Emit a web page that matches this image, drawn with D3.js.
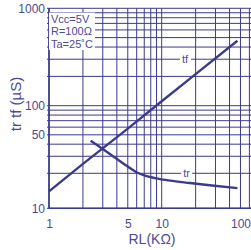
<!DOCTYPE html>
<html>
<head>
<meta charset="utf-8">
<script src="https://cdn.jsdelivr.net/npm/d3@7/dist/d3.min.js"></script>
<style>
  html, body { margin: 0; padding: 0; background: #fff; }
  svg { display: block; font-family: "Liberation Sans", Arial, sans-serif; }
</style>
</head>
<body>
<div id="chart"></div>
<script>
(function() {
    'use strict';

    // RL in kOhm, times in uS
    var tfRL = [1, 2, 5, 10, 20, 47];
    var tfValues = [14, 25, 58, 111, 211, 465];

    var trRL = [2.34, 3.0, 3.85, 4.92, 6.04, 7.11, 8.72, 11.85, 17.8, 27.9, 47];
    var trValues = [43.4, 35.7, 29.1, 23.8, 20.4, 19.1, 18.2, 17.3, 16.5, 15.7, 14.9];

    var xTickValues = [1, 5, 10, 50];
    var xTickLabels = ["1", "5", "10", "100"];
    var yTickValues = [10, 50, 100, 1000];
    var yTickLabels = ["10", "50", "100", "1000"];

    var notes = ["Vcc=5V", "R=100\u03A9", "Ta=25\u02DAC"];

    var ink = "#3b3b8c",
        textInk = "#4a4a96";

    var width = 251, height = 250;

    var svg = d3.select("#chart").append("svg")
        .attr("width", width)
        .attr("height", height);

    // setup x (log, grid runs on past the right edge)
    var xScale = d3.scaleLog().domain([1, 100]).range([49, 274.4]);

    // setup y (hand drawn grid, so split the log scale in pieces)
    var yScale = d3.scaleLog()
        .domain([10, 20, 100, 1000])
        .range([208.3, 173.3, 105.7, 8.3]);

    var xGrid = xScale.ticks();
    var yGrid = d3.scaleLog().domain([10, 1000]).ticks();

    // grid lines
    svg.append("g").selectAll("line")
        .data(xGrid)
      .enter().append("line")
        .attr("x1", function(d) { return xScale(d); })
        .attr("x2", function(d) { return xScale(d); })
        .attr("y1", yScale(1000))
        .attr("y2", yScale(10))
        .style("stroke", ink)
        .style("stroke-width", 1);

    svg.append("g").selectAll("line")
        .data(yGrid)
      .enter().append("line")
        .attr("x1", 47)
        .attr("x2", width)
        .attr("y1", function(d) { return yScale(d); })
        .attr("y2", function(d) { return yScale(d); })
        .style("stroke", ink)
        .style("stroke-width", 1);

    // axis frame
    svg.append("line")
        .attr("x1", xScale(1)).attr("x2", xScale(1))
        .attr("y1", yScale(1000)).attr("y2", yScale(10))
        .style("stroke", ink).style("stroke-width", 1.6);
    svg.append("line")
        .attr("x1", xScale(1)).attr("x2", width)
        .attr("y1", yScale(10)).attr("y2", yScale(10))
        .style("stroke", ink).style("stroke-width", 1.6);

    // tick labels
    var yAxis = d3.axisLeft(yScale)
        .tickValues(yTickValues)
        .tickSize(0)
        .tickPadding(4)
        .tickFormat(function(d, i) { return yTickLabels[i]; });

    var xAxis = d3.axisBottom(xScale)
        .tickValues(xTickValues)
        .tickSize(0)
        .tickPadding(11)
        .tickFormat(function(d, i) { return xTickLabels[i]; });

    var gy = svg.append("g")
        .attr("transform", "translate(" + xScale(1) + ",0)")
        .call(yAxis);
    var gx = svg.append("g")
        .attr("transform", "translate(0," + yScale(10) + ")")
        .call(xAxis);

    [gx, gy].forEach(function(g) {
        g.select(".domain").remove();
        g.selectAll("text")
            .style("font-size", "12px")
            .style("font-family", "Liberation Sans, Arial, sans-serif")
            .style("fill", textInk);
    });

    // curves
    var tfLine = d3.line()
        .x(function(d) { return xScale(d[0]); })
        .y(function(d) { return yScale(d[1]); });

    var trLine = d3.line()
        .curve(d3.curveMonotoneX)
        .x(function(d) { return xScale(d[0]); })
        .y(function(d) { return yScale(d[1]); });

    svg.append("path")
        .datum(d3.zip(tfRL, tfValues))
        .attr("d", tfLine)
        .style("fill", "none")
        .style("stroke", ink)
        .style("stroke-width", 2.4);

    svg.append("path")
        .datum(d3.zip(trRL, trValues))
        .attr("d", trLine)
        .style("fill", "none")
        .style("stroke", ink)
        .style("stroke-width", 2.4);

    // text (one or more lines) with a white patch behind it
    function boxedText(x, y, lines, size, anchor, lineStep) {
        var g = svg.append("g");
        var rect = g.append("rect").style("fill", "#fff");
        var t = g.append("text")
            .attr("x", x)
            .attr("y", y)
            .style("text-anchor", anchor)
            .style("font-size", size + "px")
            .style("fill", textInk);
        t.selectAll("tspan")
            .data(lines)
          .enter().append("tspan")
            .attr("x", x)
            .attr("y", function(d, i) { return y + i * lineStep; })
            .text(function(d) { return d; });
        var bb = t.node().getBBox();
        rect.attr("x", bb.x - 2)
            .attr("y", bb.y)
            .attr("width", bb.width + 4)
            .attr("height", bb.height);
    }

    // conditions
    boxedText(51, 22.6, notes, 11, "start", 12.7);

    // curve names
    boxedText(185, yScale(300) + 4, ["tf"], 11, "middle", 0);
    boxedText(186.5, yScale(20) + 4, ["tr"], 11, "middle", 0);

    // axis titles
    svg.append("text")
        .attr("transform", "translate(21,104) rotate(-90)")
        .style("text-anchor", "middle")
        .style("font-size", "15px")
        .style("fill", textInk)
        .text("tr tf (\u00B5S)");

    svg.append("text")
        .attr("x", 152)
        .attr("y", 244)
        .style("text-anchor", "middle")
        .style("font-size", "14px")
        .style("fill", textInk)
        .text("RL(K\u03A9)");
})();
</script>
</body>
</html>
